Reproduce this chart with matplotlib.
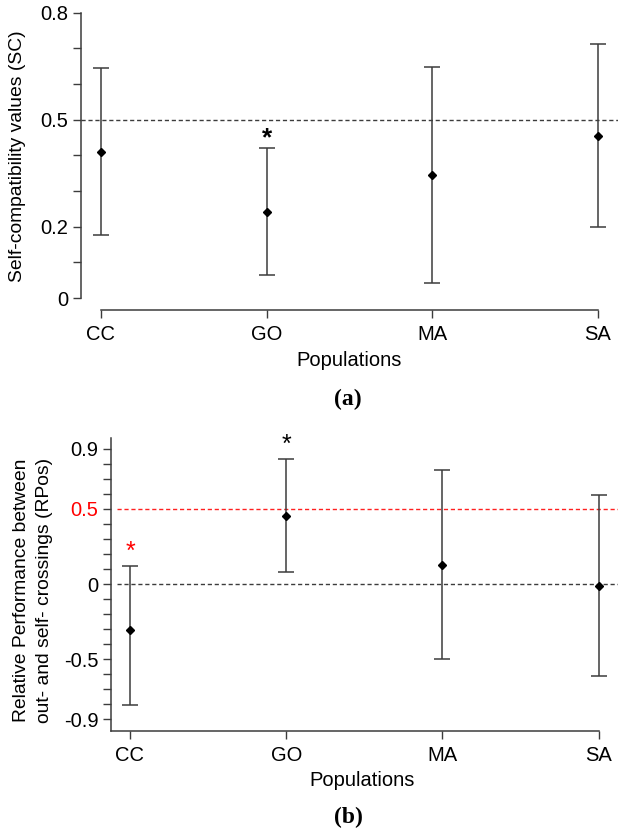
import numpy as np
import matplotlib
matplotlib.use("Agg")
import matplotlib.pyplot as plt

plt.rcParams['font.family'] = ['Liberation Sans', 'DejaVu Sans']

populations = ["CC", "GO", "MA", "SA"]

# Panel (a): self-compatibility values
sc_mean = [0.409, 0.242, 0.345, 0.455]
sc_low = [0.176, 0.064, 0.041, 0.200]
sc_high = [0.644, 0.421, 0.648, 0.712]
sc_ticks = [0, 0.1, 0.2, 0.3, 0.4, 0.5, 0.6, 0.7, 0.8]
sc_ticklabels = ["0", "", "0.2", "", "", "0.5", "", "", "0.8"]

# Panel (b): RPos
rp_mean = [-0.306, 0.450, 0.126, -0.011]
rp_low = [-0.807, 0.078, -0.497, -0.610]
rp_high = [0.120, 0.831, 0.758, 0.590]
rp_ticks = [round(v, 1) for v in np.arange(-0.9, 0.95, 0.1)]
rp_labeled = {-0.9: "-0.9", -0.5: "-0.5", 0.0: "0", 0.5: "0.5", 0.9: "0.9"}

W, H = 618, 832
fig = plt.figure(figsize=(W / 100, H / 100), dpi=100)

def ax_at(l, t, r, b):
    return fig.add_axes([l / W, 1 - b / H, (r - l) / W, (b - t) / H])

gray = "#3c3c3c"
FS = 14.5
FSY = 13.9

def style(ax):
    for s in ["top", "right"]:
        ax.spines[s].set_visible(False)
    for s in ["left", "bottom"]:
        ax.spines[s].set_color(gray)
        ax.spines[s].set_linewidth(1.1)
    ax.tick_params(colors=gray, labelcolor="black", labelsize=FS, width=1.0, length=6)
    ax.tick_params(axis="x", pad=5)
    ax.tick_params(axis="y", pad=3)

x = np.arange(1, len(populations) + 1)

# ---------- panel (a)
axa = ax_at(81, 0, 618, 310)
axa.set_xlim(1 + (81 - 101) / 165.6, 1 + (618 - 101) / 165.6)
axa.set_ylim((298 - 310) / 356.7, 298 / 356.7)
style(axa)
axa.spines["left"].set_bounds(0, 0.8)
axa.spines["bottom"].set_bounds(1, 4)
axa.axhline(0.5, color=gray, lw=1.0, ls=(0, (3, 2)))
m = np.array(sc_mean)
axa.errorbar(x, m, yerr=[m - np.array(sc_low), np.array(sc_high) - m], fmt="none",
             ecolor=gray, elinewidth=1.1, capsize=6, capthick=1.1)
axa.plot(x, m, "D", color="black", markersize=4.5)
axa.set_xticks(x)
axa.set_xticklabels(populations)
axa.set_yticks(sc_ticks)
axa.set_yticklabels(sc_ticklabels)
axa.text(2, 0.447, "*", ha="center", va="center", fontsize=19, fontweight="bold")
fig.text(349 / W, 1 - 360 / H, "Populations", ha="center", va="center", fontsize=FS)
fig.text(18 / W, 1 - 156 / H, "Self-compatibility values (SC)", rotation=90,
         ha="center", va="center", fontsize=FSY)
fig.text(348 / W, 1 - 399 / H, "(a)", ha="center", va="center", fontsize=17,
         fontweight="bold", family="Liberation Serif")

# ---------- panel (b)
axb = ax_at(111, 438, 618, 731)
axb.set_xlim(1 + (111 - 130) / 156.2, 1 + (618 - 130) / 156.2)
axb.set_ylim((584 - 731) / 150.4, (584 - 438) / 150.4)
style(axb)
axb.spines["bottom"].set_bounds(axb.get_xlim()[0], 4)
axb.axhline(0.5, color="#ff2020", lw=1.0, ls=(0, (3, 2)), xmin=0.012)
axb.axhline(0.0, color=gray, lw=1.0, ls=(0, (3, 2)), xmin=0.012)
m = np.array(rp_mean)
axb.errorbar(x, m, yerr=[m - np.array(rp_low), np.array(rp_high) - m], fmt="none",
             ecolor=gray, elinewidth=1.1, capsize=6, capthick=1.1)
axb.plot(x, m, "D", color="black", markersize=4.5)
axb.set_xticks(x)
axb.set_xticklabels(populations)
axb.set_yticks(rp_ticks)
axb.set_yticklabels([rp_labeled.get(t, "") for t in rp_ticks])
for lab, t in zip(axb.get_yticklabels(), rp_ticks):
    if t == 0.5:
        lab.set_color("#ff0000")
axb.text(1, 0.215, "*", ha="center", va="center", fontsize=18, color="#ff0000")
axb.text(2, 0.925, "*", ha="center", va="center", fontsize=18, color="black")
fig.text(362 / W, 1 - 780 / H, "Populations", ha="center", va="center", fontsize=FS)
fig.text(33 / W, 1 - 590 / H, "Relative Performance between\nout- and self- crossings (RPos)",
         rotation=90, ha="center", va="center", fontsize=FSY, linespacing=1.4,
         multialignment="center")
fig.text(348 / W, 1 - 817 / H, "(b)", ha="center", va="center", fontsize=17,
         fontweight="bold", family="Liberation Serif")

fig.savefig("out.png", dpi=100, facecolor="white")
